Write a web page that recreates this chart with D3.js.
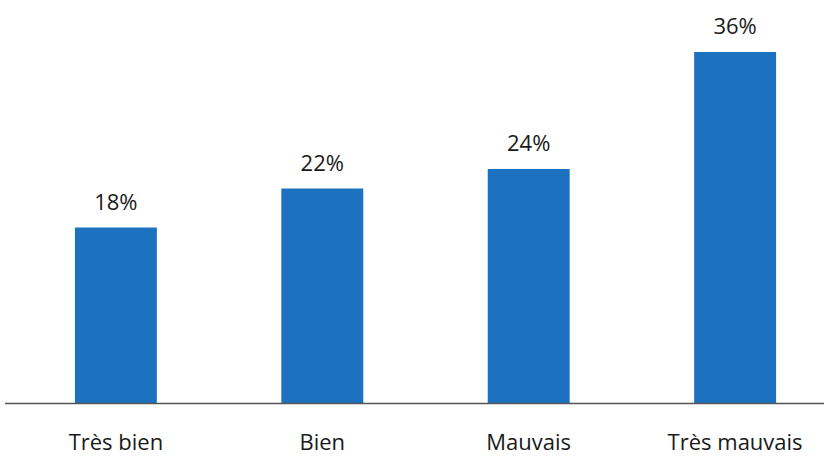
<!DOCTYPE html>
<html><head><meta charset="utf-8">
<script src="https://cdn.jsdelivr.net/npm/d3@7"></script>
<style>body{margin:0;background:#fff}svg{display:block}</style>
</head><body>
<svg id="c" width="824" height="461"></svg>
<script>
const categories = ["Très bien", "Bien", "Mauvais", "Très mauvais"];
const values = [18, 22, 24, 36];
const labels = ["18%", "22%", "24%", "36%"];

const svg = d3.select("#c");
const baseY = 403;
const x = d3.scaleBand().domain(categories).range([13, 838]).paddingInner(0.603).paddingOuter(0.3);
const y = d3.scaleLinear().domain([0, 36]).range([baseY, 52]);
const font = "'Open Sans', 'Liberation Sans', sans-serif";

svg.selectAll("rect.bar").data(values).join("rect")
  .attr("class", "bar")
  .attr("x", (d, i) => x(categories[i]))
  .attr("width", x.bandwidth())
  .attr("y", d => y(d))
  .attr("height", d => baseY - y(d))
  .attr("fill", "#1c72bf");

svg.append("line").attr("x1", 5).attr("x2", 824).attr("y1", baseY + 0.5).attr("y2", baseY + 0.5)
  .attr("stroke", "#555").attr("stroke-width", 1.5);

svg.selectAll("text.val").data(values).join("text")
  .attr("class", "val")
  .attr("x", (d, i) => x(categories[i]) + x.bandwidth() / 2)
  .attr("y", d => y(d) - 18)
  .attr("text-anchor", "middle")
  .attr("font-family", font).attr("font-size", 22).attr("font-weight", 500).attr("fill", "#1a1a1a")
  .text((d, i) => labels[i]);

const xAxis = d3.axisBottom(x).tickSize(0).tickPadding(0);
const g = svg.append("g").attr("transform", `translate(0,${baseY + 34})`).call(xAxis);
g.select(".domain").remove();
g.selectAll("text").attr("font-family", font).attr("font-size", 22).attr("font-weight", 500).attr("fill", "#1a1a1a").attr("dy", "0.6em");
</script>
</body></html>
